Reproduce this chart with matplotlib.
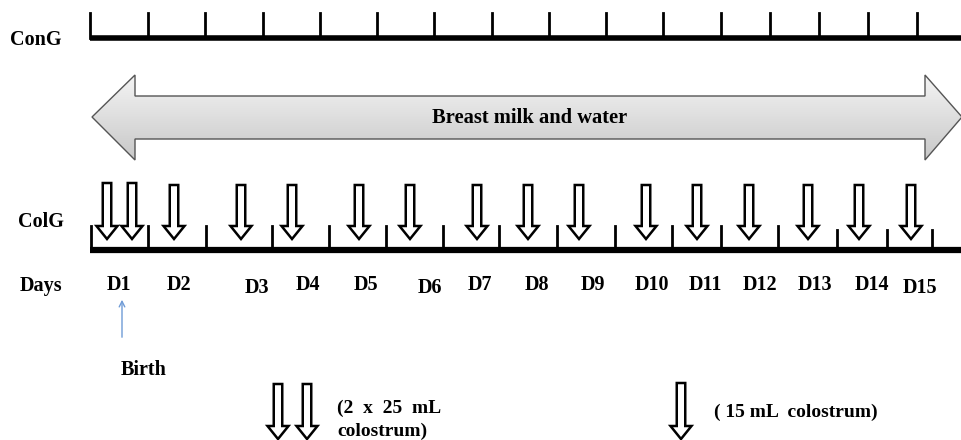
import matplotlib
matplotlib.use("Agg")
import numpy as np
from matplotlib import pyplot as plt
from matplotlib.patches import FancyArrow, Polygon

plt.rcParams['font.family'] = ['Liberation Serif', 'DejaVu Serif']

# tick marks on the two timelines (pixel x)
cong_ticks = [90, 148, 205, 263, 320, 377, 434, 492, 549, 606, 663, 721, 770, 819, 868, 917]
colg_ticks = [91, 148, 206, 272, 329, 386, 443, 499, 557, 615, 672, 721, 778, 837, 887, 932]
colg_tick_top = [226, 226, 226, 226, 226, 226, 226, 226, 226, 226, 226, 226, 226, 230, 230, 230]
# colostrum doses
dose_x = [107, 132, 174, 241, 292, 359, 410, 477, 528, 579, 646, 697, 749, 808, 859, 911]
# day labels
day_labels = ['D%d' % i for i in range(1, 16)]
day_x = [119, 179, 257, 308, 366, 430, 480, 537, 593, 652, 705, 760, 815, 872, 920]
day_y = [285, 285, 288, 285, 285, 288, 285, 285, 285, 285, 285, 285, 285, 285, 288]

fig = plt.figure(figsize=(9.62, 4.40), dpi=100)
ax = fig.add_axes([0, 0, 1, 1])
ax.set_xlim(0, 962)
ax.set_ylim(440, 0)
ax.axis('off')

def dose(x, top, tip):
	a = FancyArrow(x, top, 0, tip - top, width=8.5, head_width=21, head_length=13,
		length_includes_head=True, fc='white', ec='black', lw=1.8, zorder=3)
	ax.add_patch(a)

# ConG timeline
ax.plot([90, 962], [38, 38], color='black', lw=4, solid_capstyle='butt')
for x in cong_ticks:
	ax.plot([x, x], [13, 38], color='black', lw=2)
ax.text(10, 40, 'ConG', fontsize=14.5, fontweight='bold', va='center', ha='left')

# breast milk double arrow with gradient
poly = [(92, 117), (135, 75), (135, 96), (925, 96), (925, 75), (962, 117),
	(925, 160), (925, 139), (135, 139), (135, 160)]
patch = Polygon(poly, closed=True, fc='none', ec='#555555', lw=1, zorder=2)
ax.add_patch(patch)
grad = np.linspace(0, 1, 100).reshape(-1, 1)
im = ax.imshow(grad, cmap=matplotlib.colors.LinearSegmentedColormap.from_list('g', ['#f4f4f4', '#c8c8c8']),
	extent=[92, 962, 160, 75], aspect='auto', zorder=1)
im.set_clip_path(patch)
ax.set_xlim(0, 962)
ax.set_ylim(440, 0)
ax.text(530, 118, 'Breast milk and water', fontsize=14.8, fontweight='bold', ha='center', va='center', zorder=4)

# ColG timeline
ax.plot([90, 962], [250, 250], color='black', lw=4.5, solid_capstyle='butt')
for x, t in zip(colg_ticks, colg_tick_top):
	ax.plot([x, x], [t, 250], color='black', lw=2)
for i, x in enumerate(dose_x):
	dose(x, 183 if i < 2 else 185, 239)
ax.text(18, 222, 'ColG', fontsize=14.5, fontweight='bold', va='center', ha='left')

# days
ax.text(20, 286, 'Days', fontsize=14.5, fontweight='bold', va='center', ha='left')
for lab, x, y in zip(day_labels, day_x, day_y):
	ax.text(x, y, lab, fontsize=14.5, fontweight='bold', va='center', ha='center')

# birth
ax.annotate('', xy=(122, 297), xytext=(122, 340),
	arrowprops=dict(arrowstyle='->', color='#6f9bd6', lw=1))
ax.text(121, 370, 'Birth', fontsize=14.5, fontweight='bold', va='center', ha='left')

# legend
dose(278, 384, 439)
dose(307, 384, 439)
ax.text(337, 408, '(2  x  25  mL', fontsize=14, fontweight='bold', va='center', ha='left')
ax.text(337, 431, 'colostrum)', fontsize=14, fontweight='bold', va='center', ha='left')
dose(681, 383, 439)
ax.text(714, 412, '( 15 mL  colostrum)', fontsize=14, fontweight='bold', va='center', ha='left')

fig.savefig('out.png', dpi=100)
